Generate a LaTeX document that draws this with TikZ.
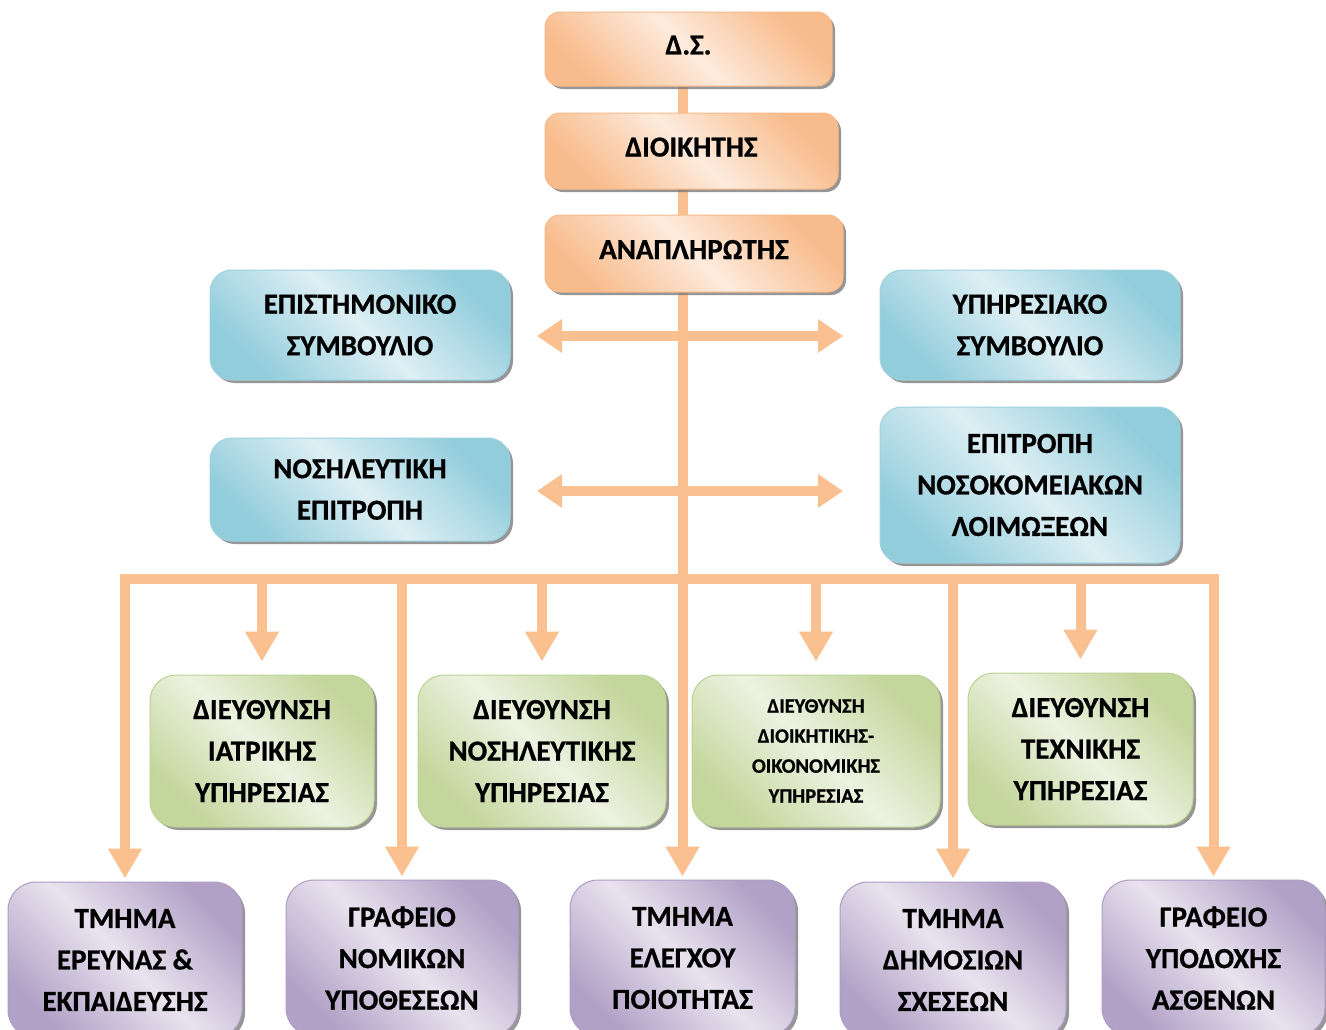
\documentclass[tikz,border=0pt]{standalone}
\usepackage{fontspec}
\setmainfont{Carlito}[BoldFeatures={FakeBold=0.8}]
\usetikzlibrary{arrows.meta,shadows}
\definecolor{orD}{HTML}{F8BC8C}
\definecolor{orL}{HTML}{FDEBDD}
\definecolor{orB}{HTML}{F6B98A}
\definecolor{blD}{HTML}{92CDDC}
\definecolor{blL}{HTML}{DDEFF4}
\definecolor{blB}{HTML}{9ED2E0}
\definecolor{grD}{HTML}{C3D69B}
\definecolor{grL}{HTML}{EDF2E1}
\definecolor{grB}{HTML}{BCD292}
\definecolor{puD}{HTML}{B2A1C7}
\definecolor{puL}{HTML}{E8E3EE}
\definecolor{puB}{HTML}{AE9DC4}
\definecolor{connC}{HTML}{FAC090}
\pgfdeclarelayer{bg}
\pgfsetlayers{bg,main}
\begin{document}
\begin{tikzpicture}[x=1pt,y=-1pt,
  box/.style={align=center, inner sep=0pt, line width=1pt,
    font=\bfseries\fontsize{29}{41.5}\selectfont,
    drop shadow={shadow xshift=3pt,shadow yshift=-3pt,fill=black!55,opacity=0.75}},
  orbox/.style={box, rounded corners=15pt, draw=orB, top color=orD, bottom color=orD, middle color=orL, shading angle=-45},
  blbox/.style={box, rounded corners=22pt, draw=blB, top color=blD, bottom color=blD, middle color=blL, shading angle=-45, minimum width=300pt},
  grbox/.style={box, rounded corners=26pt, draw=grB, top color=grD, bottom color=grD, middle color=grL, shading angle=-45, minimum height=152pt},
  pubox/.style={box, rounded corners=28pt, draw=puB, top color=puD, bottom color=puD, middle color=puL, shading angle=-45, minimum height=156pt},
  conn/.style={draw=connC, line width=10pt},
  Tri/.tip={Triangle[width=32pt,length=30pt]},
  Trh/.tip={Triangle[width=32pt,length=25pt]},
  smalltxt/.style={font=\bfseries\fontsize{20.5}{30}\selectfont}
]
\useasboundingbox (0,0) rectangle (1326,1029);
\begin{pgfonlayer}{bg}
\fill[white] (0,0) rectangle (1326,1029);
\end{pgfonlayer}

% top chain
\node[orbox, minimum width=287pt, minimum height=74pt] (ds) at (688.5,49) {\raisebox{8pt}{Δ.Σ.}};
\node[orbox, minimum width=293pt, minimum height=76pt] (dioik) at (691.5,151) {\raisebox{8pt}{ΔΙΟΙΚΗΤΗΣ}};
\node[orbox, minimum width=298pt, minimum height=77pt] (anapl) at (694,253.5) {\raisebox{8pt}{ΑΝΑΠΛΗΡΩΤΗΣ}};

% side committees
\node[blbox, minimum height=110pt] (epist) at (360,325) {ΕΠΙΣΤΗΜΟΝΙΚΟ\\ΣΥΜΒΟΥΛΙΟ};
\node[blbox, minimum height=110pt] (ypir) at (1030,325) {ΥΠΗΡΕΣΙΑΚΟ\\ΣΥΜΒΟΥΛΙΟ};
\node[blbox, minimum height=103pt] (nosil) at (360,489.5) {ΝΟΣΗΛΕΥΤΙΚΗ\\ΕΠΙΤΡΟΠΗ};
\node[blbox, minimum height=156pt] (loim) at (1030,485) {ΕΠΙΤΡΟΠΗ\\ΝΟΣΟΚΟΜΕΙΑΚΩΝ\\ΛΟΙΜΩΞΕΩΝ};

% directorates
\node[grbox, minimum width=224pt] (g1) at (262,751) {ΔΙΕΥΘΥΝΣΗ\\ΙΑΤΡΙΚΗΣ\\ΥΠΗΡΕΣΙΑΣ};
\node[grbox, minimum width=248pt] (g2) at (542,751) {ΔΙΕΥΘΥΝΣΗ\\ΝΟΣΗΛΕΥΤΙΚΗΣ\\ΥΠΗΡΕΣΙΑΣ};
\node[grbox, minimum width=248pt, smalltxt] (g3) at (816,751) {ΔΙΕΥΘΥΝΣΗ\\ΔΙΟΙΚΗΤΙΚΗΣ-\\ΟΙΚΟΝΟΜΙΚΗΣ\\ΥΠΗΡΕΣΙΑΣ};
\node[grbox, minimum width=225pt] (g4) at (1080.5,749) {ΔΙΕΥΘΥΝΣΗ\\ΤΕΧΝΙΚΗΣ\\ΥΠΗΡΕΣΙΑΣ};

% departments
\node[pubox, minimum width=234pt] (p1) at (125,960) {ΤΜΗΜΑ\\ΕΡΕΥΝΑΣ \&\\ΕΚΠΑΙΔΕΥΣΗΣ};
\node[pubox, minimum width=232pt] (p2) at (402,958) {ΓΡΑΦΕΙΟ\\ΝΟΜΙΚΩΝ\\ΥΠΟΘΕΣΕΩΝ};
\node[pubox, minimum width=225pt] (p3) at (682.5,958) {ΤΜΗΜΑ\\ΕΛΕΓΧΟΥ\\ΠΟΙΟΤΗΤΑΣ};
\node[pubox, minimum width=226pt] (p4) at (953,960) {ΤΜΗΜΑ\\ΔΗΜΟΣΙΩΝ\\ΣΧΕΣΕΩΝ};
\node[pubox, minimum width=223pt] (p5) at (1213.5,958) {ΓΡΑΦΕΙΟ\\ΥΠΟΔΟΧΗΣ\\ΑΣΘΕΝΩΝ};

\coordinate (bus) at (0,579);
\coordinate (h1L) at (537,336);
\coordinate (h1R) at (843,336);
\coordinate (h2L) at (537,491);
\coordinate (h2R) at (843,491);

\begin{pgfonlayer}{bg}
% trunk
\draw[conn, -{Tri}, shorten >=3pt] (ds.south -| p3.north) -- (p3.north);
% side double arrows
\draw[conn, {Trh}-{Trh}] (h1L) -- (h1R);
\draw[conn, {Trh}-{Trh}] (h2L) -- (h2R);
% bus with outer arrows
\draw[conn, {Tri}-{Tri}, shorten <=3pt, shorten >=3pt] (p1.north) -- (p1.north |- bus) -- (p5.north |- bus) -- (p5.north);
% long arrows
\draw[conn, -{Tri}, shorten >=3pt] (p2.north |- bus) -- (p2.north);
\draw[conn, -{Tri}, shorten >=3pt] (p4.north |- bus) -- (p4.north);
% short arrows
\draw[conn, -{Tri}, shorten >=13pt] (g1.north |- bus) -- (g1.north);
\draw[conn, -{Tri}, shorten >=13pt] (g2.north |- bus) -- (g2.north);
\draw[conn, -{Tri}, shorten >=13pt] (g3.north |- bus) -- (g3.north);
\draw[conn, -{Tri}, shorten >=13pt] (g4.north |- bus) -- (g4.north);
\end{pgfonlayer}
\end{tikzpicture}
\end{document}
